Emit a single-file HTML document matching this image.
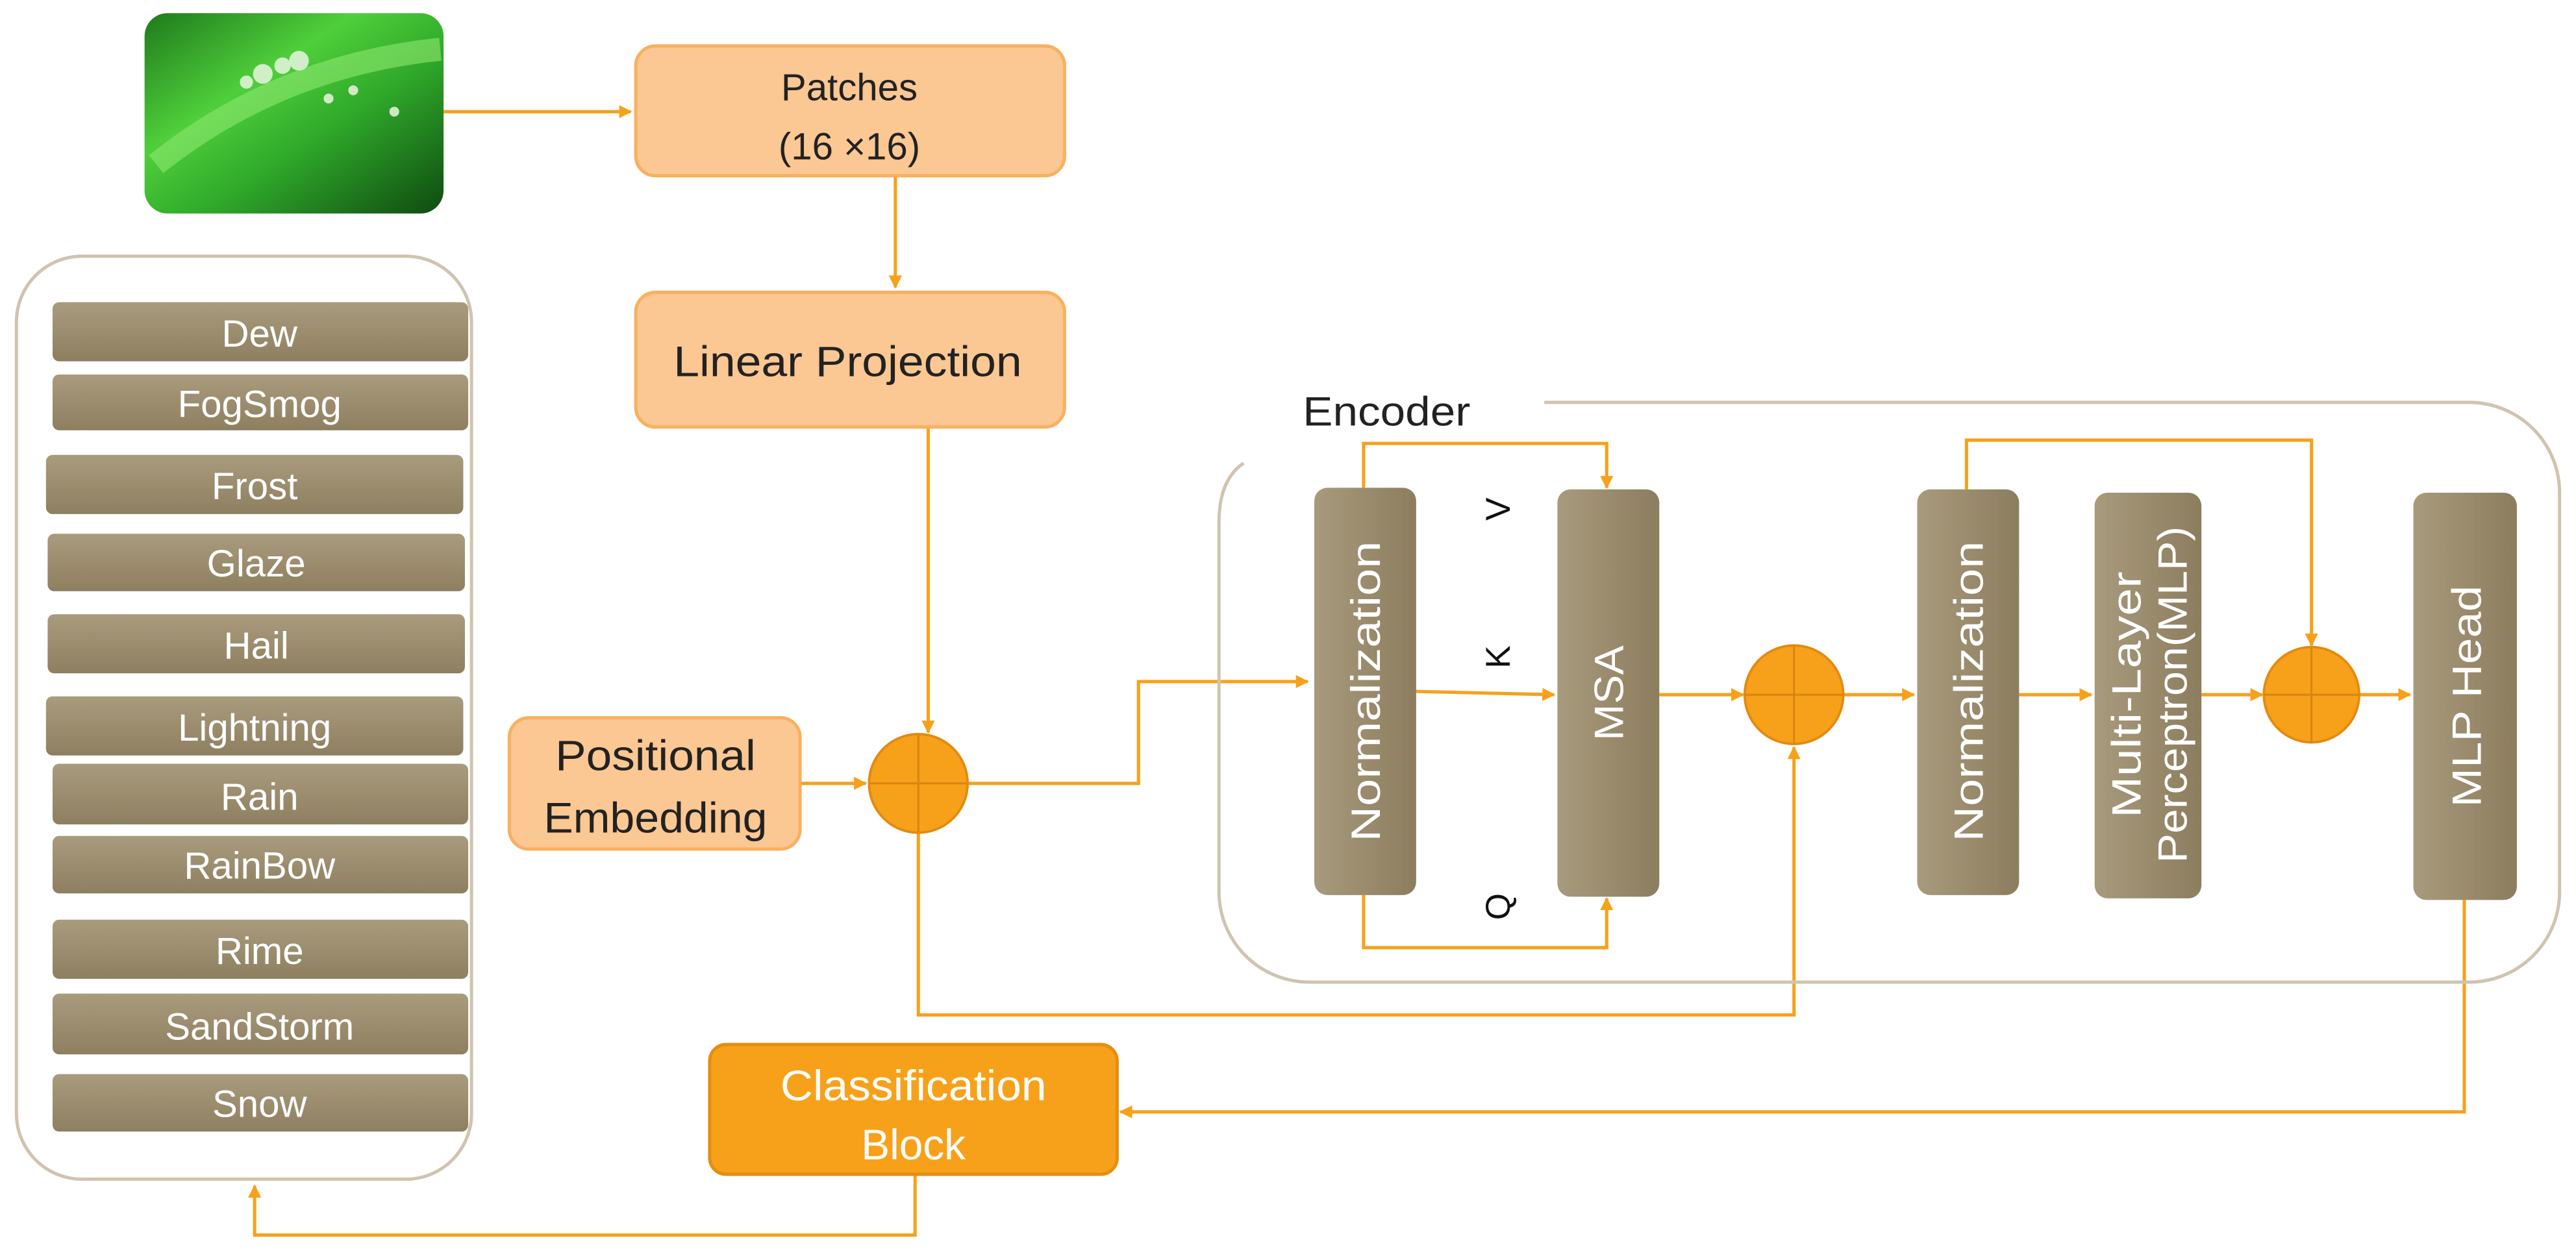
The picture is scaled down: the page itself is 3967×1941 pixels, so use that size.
<!DOCTYPE html>
<html><head><meta charset="utf-8"><style>
html,body{margin:0;padding:0;background:#fff;}
svg{display:block;}
text{font-family:"Liberation Sans",sans-serif;}
</style></head><body>
<svg width="3967" height="1941" viewBox="0 0 1568 767.2" preserveAspectRatio="none" xmlns="http://www.w3.org/2000/svg">
<defs>
<linearGradient id="br" x1="0" y1="0" x2="1" y2="0">
<stop offset="0" stop-color="#a89a7c"/><stop offset="1" stop-color="#8c7d5e"/></linearGradient>
<linearGradient id="brh" x1="0" y1="0" x2="0" y2="1">
<stop offset="0" stop-color="#a99b7d"/><stop offset="1" stop-color="#8e7f60"/></linearGradient>
<linearGradient id="leaf" x1="0" y1="0" x2="1" y2="1">
<stop offset="0" stop-color="#1f7a1c"/><stop offset="0.35" stop-color="#4fcf3a"/><stop offset="0.6" stop-color="#2fa82a"/><stop offset="1" stop-color="#0f4a10"/></linearGradient>
<marker id="a" viewBox="0 0 10 10" refX="9" refY="5" markerWidth="4" markerHeight="4" orient="auto"><path d="M0,0L10,5L0,10z" fill="#f7a11a"/></marker>
</defs>

<rect x="88" y="8" width="182" height="122" rx="14" fill="url(#leaf)"/>
<path d="M95,100 Q170,40 268,30" stroke="#8ee86f" stroke-width="14" fill="none" opacity="0.6"/>
<g fill="#e8f5e0" opacity="0.85"><circle cx="160" cy="45" r="6"/><circle cx="172" cy="40" r="5"/><circle cx="182" cy="37" r="6"/><circle cx="150" cy="50" r="4"/><circle cx="200" cy="60" r="3"/><circle cx="215" cy="55" r="3"/><circle cx="240" cy="68" r="3"/></g>

<g stroke="#f7a11a" stroke-width="2" fill="none">
<path d="M270,68H384" marker-end="url(#a)"/>
<path d="M545,107V175" marker-end="url(#a)"/>
<path d="M565,260V446" marker-end="url(#a)"/>
<path d="M487,477H527" marker-end="url(#a)"/>
<path d="M589,477H693V415H796" marker-end="url(#a)"/>
<path d="M559,507V618H1092V455" marker-end="url(#a)"/>
<path d="M557,715V752H155V722" marker-end="url(#a)"/>
<path d="M830,297V270H978V297" marker-end="url(#a)"/>
<path d="M830,545V577H978V547" marker-end="url(#a)"/>
<path d="M862,421L946,423" marker-end="url(#a)"/>
<path d="M1010,423H1061" marker-end="url(#a)"/>
<path d="M1122,423H1165" marker-end="url(#a)"/>
<path d="M1229,423H1273" marker-end="url(#a)"/>
<path d="M1340,423H1377" marker-end="url(#a)"/>
<path d="M1197,298V268H1407V393" marker-end="url(#a)"/>
<path d="M1436,423H1467" marker-end="url(#a)"/>
<path d="M1500,548V677H682" marker-end="url(#a)"/>
</g>

<rect x="387" y="28" width="261" height="79" rx="12" fill="#fbc792" stroke="#f9b060" stroke-width="2"/>
<text x="517" y="61" font-size="23" text-anchor="middle" fill="#222">Patches</text>
<text x="517" y="97" font-size="23" text-anchor="middle" fill="#222">(16 ×16)</text>
<rect x="387" y="178" width="261" height="82" rx="12" fill="#fbc792" stroke="#f9b060" stroke-width="2"/>
<text x="516" y="229" font-size="26" text-anchor="middle" fill="#222" textLength="212" lengthAdjust="spacingAndGlyphs">Linear Projection</text>
<rect x="310" y="437" width="177" height="80" rx="12" fill="#fbc792" stroke="#f9b060" stroke-width="2"/>
<text x="399" y="469" font-size="26" text-anchor="middle" fill="#222" textLength="122" lengthAdjust="spacingAndGlyphs">Positional</text>
<text x="399" y="507" font-size="26" text-anchor="middle" fill="#222" textLength="136" lengthAdjust="spacingAndGlyphs">Embedding</text>
<rect x="432" y="636" width="248" height="79" rx="10" fill="#f7a11a" stroke="#e58e0f" stroke-width="2"/>
<text x="556" y="670" font-size="26" text-anchor="middle" fill="#fff" textLength="162" lengthAdjust="spacingAndGlyphs">Classification</text>
<text x="556" y="706" font-size="26" text-anchor="middle" fill="#fff">Block</text>

<g fill="#f7a11a" stroke="#e38a10" stroke-width="1.5">
<circle cx="559" cy="477" r="30"/><circle cx="1092" cy="423" r="30"/><circle cx="1407" cy="423" r="29"/>
</g>
<g stroke="#d98510" stroke-width="1.2">
<path d="M529,477H589M559,447V507"/><path d="M1062,423H1122M1092,393V453"/><path d="M1378,423H1436M1407,394V452"/>
</g>

<rect x="10" y="156" width="277" height="562" rx="40" fill="none" stroke="#cfc4b0" stroke-width="2"/>
<g fill="url(#brh)">
<rect x="32" y="184" width="253" height="36" rx="4"/>
<rect x="32" y="228" width="253" height="34" rx="4"/>
<rect x="28" y="277" width="254" height="36" rx="4"/>
<rect x="29" y="325" width="254" height="35" rx="4"/>
<rect x="29" y="374" width="254" height="36" rx="4"/>
<rect x="28" y="424" width="254" height="36" rx="4"/>
<rect x="32" y="465" width="253" height="37" rx="4"/>
<rect x="32" y="509" width="253" height="35" rx="4"/>
<rect x="32" y="560" width="253" height="36" rx="4"/>
<rect x="32" y="605" width="253" height="37" rx="4"/>
<rect x="32" y="654" width="253" height="35" rx="4"/>
</g>
<g fill="#fff" font-size="23" text-anchor="middle">
<text x="158" y="211">Dew</text>
<text x="158" y="254">FogSmog</text>
<text x="155" y="304">Frost</text>
<text x="156" y="351">Glaze</text>
<text x="156" y="401">Hail</text>
<text x="155" y="451">Lightning</text>
<text x="158" y="493">Rain</text>
<text x="158" y="535">RainBow</text>
<text x="158" y="587">Rime</text>
<text x="158" y="633">SandStorm</text>
<text x="158" y="680">Snow</text>
</g>

<path d="M940,245H1503A55,55 0 0 1 1558,300V543A55,55 0 0 1 1503,598H797A55,55 0 0 1 742,543V318Q742,292 757,282" fill="none" stroke="#cfc4b0" stroke-width="2"/>
<text x="793" y="259" font-size="25" fill="#222" textLength="102" lengthAdjust="spacingAndGlyphs">Encoder</text>

<g fill="url(#br)">
<rect x="800" y="297" width="62" height="248" rx="8"/>
<rect x="948" y="298" width="62" height="248" rx="8"/>
<rect x="1167" y="298" width="62" height="247" rx="8"/>
<rect x="1275" y="300" width="65" height="247" rx="8"/>
<rect x="1469" y="300" width="63" height="248" rx="8"/>
</g>
<g fill="#fff" font-size="25" text-anchor="middle">
<text transform="translate(840,421) rotate(-90)" textLength="183" lengthAdjust="spacingAndGlyphs">Normalization</text>
<text transform="translate(988,422) rotate(-90)" textLength="58" lengthAdjust="spacingAndGlyphs">MSA</text>
<text transform="translate(1207,421) rotate(-90)" textLength="183" lengthAdjust="spacingAndGlyphs">Normalization</text>
<text transform="translate(1303,423) rotate(-90)" textLength="150" lengthAdjust="spacingAndGlyphs">Multi-Layer</text>
<text transform="translate(1331,423) rotate(-90)" textLength="205" lengthAdjust="spacingAndGlyphs">Perceptron(MLP)</text>
<text transform="translate(1510,424) rotate(-90)" textLength="135" lengthAdjust="spacingAndGlyphs">MLP Head</text>
</g>
<g fill="#111" font-size="21" text-anchor="middle">
<text transform="translate(919,310) rotate(-90)">V</text>
<text transform="translate(919,400) rotate(-90)">K</text>
<text transform="translate(919,552) rotate(-90)">Q</text>
</g>
</svg>
</body></html>
